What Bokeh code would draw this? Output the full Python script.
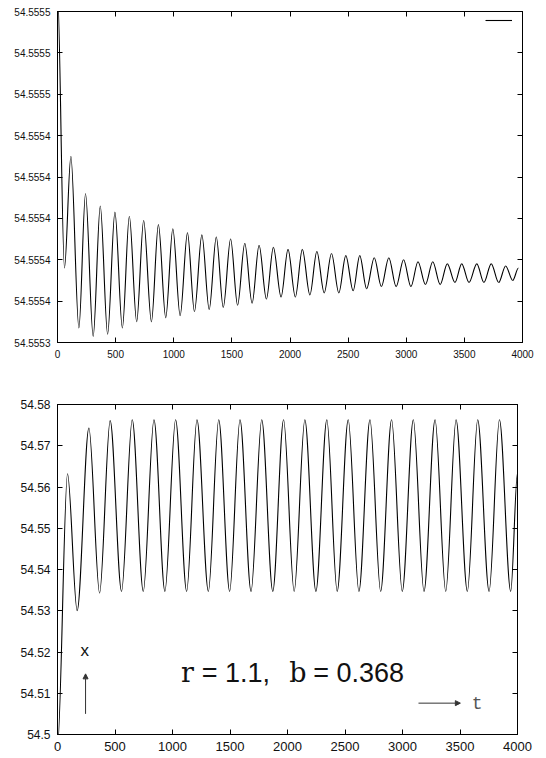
from bokeh.plotting import figure
from bokeh.models import (Range1d, FixedTicker, LinearAxis, Legend, LegendItem,
                          Arrow, NormalHead, Label, ColumnDataSource,
                          CustomLabelingPolicy)
from bokeh.layouts import column
from bokeh.embed import file_html
from bokeh.resources import INLINE

# ---------------- data ----------------
x_ticks = [0, 500, 1000, 1500, 2000, 2500, 3000, 3500, 4000]

top_y_ticks = [54.55533, 54.55535, 54.55537, 54.55539, 54.55541,
               54.55543, 54.55545, 54.55547, 54.55549]
top_y_labels = ["54.5553", "54.5554", "54.5554", "54.5554", "54.5554",
                "54.5554", "54.5555", "54.5555", "54.5555"]

# extrema of the damped oscillation (top panel)
top_t = [0, 60, 115, 184, 241, 307, 368, 431, 494, 558,
         618, 681, 741, 808, 868, 931, 992, 1055, 1118, 1178,
         1242, 1305, 1366, 1426, 1489, 1549, 1611, 1674, 1734, 1797,
         1857, 1923, 1983, 2046, 2106, 2171, 2231, 2294, 2357, 2420,
         2480, 2543, 2600, 2659, 2725, 2786, 2850, 2913, 2977, 3040,
         3101, 3165, 3228, 3292, 3353, 3419, 3477, 3540, 3607, 3668,
         3731, 3795, 3855, 3916, 3965]
top_x = [54.555500, 54.555366, 54.555420, 54.555337, 54.555402, 54.555333, 54.555396, 54.555334, 54.555393, 54.555337,
         54.555391, 54.555340, 54.555389, 54.555340, 54.555387, 54.555342, 54.555385, 54.555343, 54.555383, 54.555345,
         54.555382, 54.555346, 54.555381, 54.555347, 54.555380, 54.555348, 54.555378, 54.555349, 54.555377, 54.555351,
         54.555376, 54.555352, 54.555375, 54.555352, 54.555375, 54.555353, 54.555374, 54.555354, 54.555373, 54.555354,
         54.555372, 54.555355, 54.555372, 54.555356, 54.555371, 54.555357, 54.555371, 54.555357, 54.555370, 54.555357,
         54.555369, 54.555358, 54.555369, 54.555358, 54.555368, 54.555359, 54.555368, 54.555359, 54.555368, 54.555359,
         54.555368, 54.555359, 54.555367, 54.555360, 54.555366]

bot_y_ticks = [54.50, 54.51, 54.52, 54.53, 54.54, 54.55, 54.56, 54.57, 54.58]
bot_y_labels = ["54.5", "54.51", "54.52", "54.53", "54.54", "54.55", "54.56", "54.57", "54.58"]

# extrema of the limit-cycle oscillation (bottom panel)
bot_t = [0, 87, 171, 273, 366, 458, 557, 650, 746, 839,
         934, 1027, 1123, 1213, 1312, 1402, 1497, 1587, 1683, 1776,
         1872, 1966, 2058, 2151, 2247, 2342, 2432, 2528, 2621, 2717,
         2810, 2905, 2998, 3094, 3187, 3283, 3376, 3466, 3564, 3654,
         3753, 3843, 3941, 4000]
bot_x = [54.4970, 54.5632, 54.5300, 54.5743, 54.5343, 54.5761, 54.5347, 54.5763, 54.5347, 54.5763,
         54.5347, 54.5763, 54.5347, 54.5763, 54.5347, 54.5763, 54.5347, 54.5763, 54.5347, 54.5763,
         54.5347, 54.5763, 54.5347, 54.5763, 54.5347, 54.5763, 54.5347, 54.5763, 54.5347, 54.5763,
         54.5347, 54.5763, 54.5347, 54.5763, 54.5347, 54.5763, 54.5347, 54.5763, 54.5347, 54.5763,
         54.5347, 54.5763, 54.5347, 54.5634]

FONT = "Liberation Sans"


def curve_source(ts, xs):
    # smooth segments between consecutive extrema (horizontal tangents)
    d = dict(x0=[], y0=[], x1=[], y1=[], cx0=[], cy0=[], cx1=[], cy1=[])
    for i in range(len(ts) - 1):
        t0, t1, v0, v1 = ts[i], ts[i + 1], xs[i], xs[i + 1]
        dt = t1 - t0
        d["x0"].append(t0); d["y0"].append(v0)
        d["x1"].append(t1); d["y1"].append(v1)
        d["cx0"].append(t0 + dt / 3.0); d["cy0"].append(v0)
        d["cx1"].append(t1 - dt / 3.0); d["cy1"].append(v1)
    return ColumnDataSource(d)


def mirror_axis(ticks):
    return LinearAxis(ticker=FixedTicker(ticks=ticks), major_tick_in=5,
                      major_tick_out=0, minor_tick_line_color=None,
                      major_label_policy=CustomLabelingPolicy(code=""),
                      major_label_text_font_size="1px", major_label_standoff=0,
                      axis_line_color="black")


def make_fig(fw, fh, yr, yt, ylab, tick_fs, xtick_fs, mb_l, mb_t, mb_b, mb_r):
    p = figure(frame_width=fw, frame_height=fh, x_range=Range1d(0, 4000),
               y_range=Range1d(*yr), output_backend="svg", toolbar_location=None,
               min_border_left=mb_l, min_border_top=mb_t, min_border_bottom=mb_b,
               min_border_right=mb_r, background_fill_color="white",
               border_fill_color="white", outline_line_color="black",
               outline_line_width=1)
    p.grid.visible = False
    for ax in (p.xaxis[0], p.yaxis[0]):
        ax.major_tick_in = 5
        ax.major_tick_out = 0
        ax.minor_tick_line_color = None
        ax.axis_line_color = "black"
        ax.major_tick_line_color = "black"
        ax.major_label_text_font = FONT
        ax.major_label_text_color = "#111111"
        ax.major_label_standoff = 7
    p.xaxis[0].ticker = FixedTicker(ticks=x_ticks)
    p.xaxis[0].major_label_text_font_size = xtick_fs
    p.yaxis[0].ticker = FixedTicker(ticks=yt)
    p.yaxis[0].major_label_overrides = {v: s for v, s in zip(yt, ylab)}
    p.yaxis[0].major_label_text_font_size = tick_fs
    p.add_layout(mirror_axis(x_ticks), "above")
    p.add_layout(mirror_axis(yt), "right")
    return p


# ---------------- top panel ----------------
p1 = make_fig(465, 331, (54.55533, 54.55549), top_y_ticks, top_y_labels,
              "10px", "10px", 57, 11, 30, 16)
r1 = p1.bezier(x0="x0", y0="y0", x1="x1", y1="y1", cx0="cx0", cy0="cy0",
               cx1="cx1", cy1="cy1", source=curve_source(top_t, top_x),
               line_color="black", line_width=1.1)
leg = Legend(items=[LegendItem(label=" ", renderers=[r1])], location="top_right",
             margin=0, padding=0, spacing=0, glyph_width=27, glyph_height=18,
             label_standoff=10, label_width=0, label_height=0,
             label_text_font_size="1px", border_line_color=None,
             background_fill_color=None)
p1.add_layout(leg)

# ---------------- bottom panel ----------------
p2 = make_fig(460, 330, (54.50, 54.58), bot_y_ticks, bot_y_labels,
              "12px", "13px", 57, 32, 22, 21)
p2.bezier(x0="x0", y0="y0", x1="x1", y1="y1", cx0="cx0", cy0="cy0",
          cx1="cx1", cy1="cy1", source=curve_source(bot_t, bot_x),
          line_color="black", line_width=1.1)

p2.add_layout(Arrow(end=NormalHead(size=5, fill_color="#333333", line_color="#333333"),
                    x_start=244, y_start=54.505, x_end=244, y_end=54.5147,
                    line_color="#333333", line_width=1))
p2.add_layout(Arrow(end=NormalHead(size=5, fill_color="#333333", line_color="#333333"),
                    x_start=3139, y_start=54.5076, x_end=3503, y_end=54.5076,
                    line_color="#333333", line_width=1))
p2.add_layout(Label(x=238, y=54.5203, text="x", text_font=FONT, text_font_size="17px",
                    text_align="center", text_baseline="middle", text_color="#111111"))
p2.add_layout(Label(x=3650, y=54.5075, text="t", text_font="Liberation Mono",
                    text_font_size="18px", text_align="center", text_baseline="middle",
                    text_color="#555555"))
for xx, txt, fnt in [(1073, "r", "DejaVu Serif"), (1254, "= 1.1,", FONT),
                     (2016, "b", "DejaVu Serif"), (2223, "= 0.368", FONT)]:
    p2.add_layout(Label(x=xx, y=54.5150, text=txt, text_font=fnt, text_font_size="27px",
                        text_align="left", text_baseline="alphabetic",
                        text_color="#111111"))

layout = column(p1, p2, spacing=0)
open("out.html", "w").write(file_html(layout, INLINE))
